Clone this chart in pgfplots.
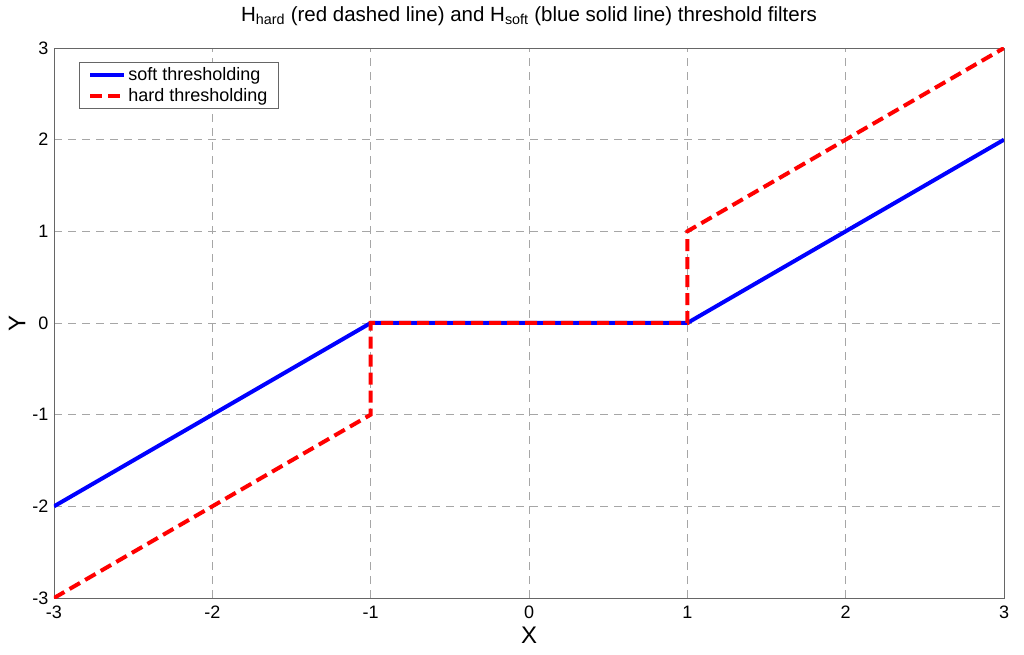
\documentclass[border=0pt]{standalone}
\usepackage{pgfplots}
\pgfplotsset{compat=1.18}
\usepackage{fontspec}
\setmainfont{Liberation Sans}
\begin{document}
\begin{tikzpicture}
\path[use as bounding box] (-54pt,-57pt) rectangle (970pt,598pt);
\begin{axis}[
  at={(0,0)}, anchor=south west,
  scale only axis, width=950pt, height=550pt,
  xmin=-3, xmax=3, ymin=-3, ymax=3,
  xtick={-3,-2,-1,0,1,2,3}, ytick={-3,-2,-1,0,1,2,3},
  xticklabels={-3,-2,-1,0,1,2,3}, yticklabels={-3,-2,-1,0,1,2,3},
  tick label style={font=\fontsize{18}{20}\selectfont},
  xticklabel style={anchor=center, yshift=-14pt},
  yticklabel style={anchor=east, xshift=-2pt},
  grid=major,
  major grid style={gray!70, line width=0.8pt, dash pattern=on 8pt off 6pt},
  axis line style={gray!80!black, line width=0.8pt},
  tick style={draw=none},
  title={H\textsubscript{hard} (red dashed line) and H\textsubscript{soft} (blue solid line) threshold filters},
  title style={font=\fontsize{20.5}{24}\selectfont, at={(axis description cs:0.5,1)}, anchor=center, yshift=26pt},
  xlabel={X}, ylabel={Y},
  label style={font=\fontsize{24}{28}\selectfont},
  xlabel style={at={(axis description cs:0.5,0)}, anchor=center, yshift=-37pt},
  every axis y label/.append style={at={(axis description cs:0,0.5)}, anchor=center, rotate=0, xshift=0pt, yshift=37pt},
  legend style={at={(axis description cs:0,1)}, anchor=north west, xshift=25pt, yshift=-14pt,
    font=\fontsize{18}{21}\selectfont, draw=gray!80!black, line width=0.8pt, inner xsep=9pt, inner ysep=3pt,
    row sep=3pt, /tikz/every even column/.append style={column sep=9pt},
    legend cell align=left},
  legend image code/.code={\draw[#1, line width=4pt] (0pt,0pt) -- (34pt,0pt);},
]
\addplot[blue, line width=4pt] coordinates {(-3,-2) (-1,0) (1,0) (3,2)};
\addlegendentry{soft thresholding}
\addplot[red, line width=4pt, dash pattern=on 12pt off 6pt] coordinates {(-3,-3) (-1,-1) (-1,0) (1,0) (1,1) (3,3)};
\addlegendentry{hard thresholding}
\end{axis}
\end{tikzpicture}
\end{document}
